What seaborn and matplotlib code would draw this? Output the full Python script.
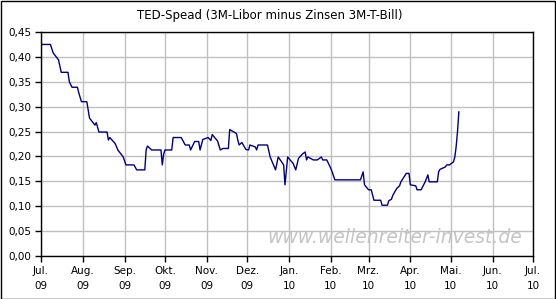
import matplotlib
matplotlib.use("Agg")
import matplotlib.pyplot as plt
import seaborn as sns
import pandas as pd
from matplotlib.patches import Rectangle

dates = [
    "2009-07-01", "2009-07-08", "2009-07-10", "2009-07-14", "2009-07-16", "2009-07-21",
    "2009-07-22", "2009-07-24", "2009-07-28", "2009-07-29", "2009-07-31", "2009-08-04",
    "2009-08-06", "2009-08-10", "2009-08-11", "2009-08-13", "2009-08-19", "2009-08-20",
    "2009-08-21", "2009-08-25", "2009-08-27", "2009-08-31", "2009-09-02", "2009-09-08",
    "2009-09-10", "2009-09-16", "2009-09-17", "2009-09-18", "2009-09-21", "2009-09-28",
    "2009-09-29", "2009-09-30", "2009-10-01", "2009-10-06", "2009-10-07", "2009-10-13",
    "2009-10-16", "2009-10-19", "2009-10-20", "2009-10-23", "2009-10-26", "2009-10-27",
    "2009-10-29", "2009-11-02", "2009-11-04", "2009-11-05", "2009-11-09", "2009-11-11",
    "2009-11-13", "2009-11-17", "2009-11-18", "2009-11-23", "2009-11-24", "2009-11-25",
    "2009-11-27", "2009-11-30", "2009-12-02", "2009-12-03", "2009-12-07", "2009-12-08",
    "2009-12-09", "2009-12-16", "2009-12-18", "2009-12-22", "2009-12-24", "2009-12-28",
    "2009-12-29", "2009-12-31", "2010-01-04", "2010-01-06", "2010-01-08", "2010-01-11",
    "2010-01-13", "2010-01-14", "2010-01-15", "2010-01-19", "2010-01-22", "2010-01-25",
    "2010-01-26", "2010-01-29", "2010-02-01", "2010-02-02", "2010-02-04", "2010-02-23",
    "2010-02-25", "2010-02-26", "2010-03-01", "2010-03-03", "2010-03-05", "2010-03-10",
    "2010-03-11", "2010-03-15", "2010-03-16", "2010-03-18", "2010-03-19", "2010-03-22",
    "2010-03-24", "2010-03-25", "2010-03-29", "2010-03-31", "2010-04-01", "2010-04-05",
    "2010-04-06", "2010-04-09", "2010-04-12", "2010-04-14", "2010-04-15", "2010-04-21",
    "2010-04-22", "2010-04-23", "2010-04-27", "2010-04-28", "2010-04-30", "2010-05-03",
    "2010-05-04", "2010-05-05", "2010-05-06", "2010-05-07",
]
ted_spread = [
    0.425, 0.425, 0.408, 0.394, 0.369, 0.369,
    0.350, 0.339, 0.339, 0.328, 0.310, 0.310,
    0.277, 0.263, 0.268, 0.249, 0.249, 0.233,
    0.238, 0.226, 0.213, 0.199, 0.183, 0.183,
    0.173, 0.173, 0.213, 0.221, 0.213, 0.213,
    0.183, 0.205, 0.213, 0.213, 0.238, 0.238,
    0.223, 0.223, 0.213, 0.230, 0.230, 0.213,
    0.234, 0.238, 0.232, 0.244, 0.231, 0.213,
    0.216, 0.216, 0.254, 0.246, 0.233, 0.223,
    0.228, 0.214, 0.213, 0.223, 0.219, 0.213,
    0.223, 0.223, 0.199, 0.173, 0.199, 0.183,
    0.143, 0.199, 0.186, 0.173, 0.196, 0.205,
    0.209, 0.193, 0.199, 0.193, 0.193, 0.199,
    0.193, 0.193, 0.176, 0.169, 0.153, 0.153,
    0.169, 0.143, 0.133, 0.133, 0.112, 0.112,
    0.102, 0.102, 0.111, 0.114, 0.122, 0.136,
    0.141, 0.149, 0.166, 0.166, 0.143, 0.141,
    0.133, 0.133, 0.149, 0.163, 0.149, 0.149,
    0.169, 0.174, 0.179, 0.183, 0.183, 0.189,
    0.199, 0.220, 0.250, 0.290,
]
tick_dates = ["2009-07-01", "2009-08-01", "2009-09-01", "2009-10-01", "2009-11-01",
              "2009-12-01", "2010-01-01", "2010-02-01", "2010-03-01", "2010-04-01",
              "2010-05-01", "2010-06-01", "2010-07-01"]
tick_labels = ["Jul.\n09", "Aug.\n09", "Sep.\n09", "Okt.\n09", "Nov.\n09", "Dez.\n09",
               "Jan.\n10", "Feb.\n10", "Mrz.\n10", "Apr.\n10", "Mai.\n10", "Jun.\n10",
               "Jul.\n10"]
y_ticks = [0.00, 0.05, 0.10, 0.15, 0.20, 0.25, 0.30, 0.35, 0.40, 0.45]
y_labels = ["0,00", "0,05", "0,10", "0,15", "0,20", "0,25", "0,30", "0,35", "0,40", "0,45"]
title = "TED-Spead (3M-Libor minus Zinsen 3M-T-Bill)"
watermark = "www.wellenreiter-invest.de"

sns.set_theme(style="white")
plt.rcParams["font.family"] = ["DejaVu Sans"]

df = pd.DataFrame({"date": pd.to_datetime(dates), "ted": ted_spread})

W, H = 556, 299
fig = plt.figure(figsize=(W / 100, H / 100), dpi=100)
fig.patch.set_facecolor("white")
ax = fig.add_axes([41 / W, 1 - 256 / H, (533 - 41) / W, (256 - 32) / H])

sns.lineplot(data=df, x="date", y="ted", ax=ax, color="#000080", linewidth=1.0)

ax.set_xlim(pd.Timestamp("2009-07-01"), pd.Timestamp("2010-07-01"))
ax.set_ylim(0, 0.45)
ax.set_xticks(pd.to_datetime(tick_dates))
ax.set_xticklabels(tick_labels, fontsize=7.5, linespacing=1.7)
ax.set_yticks(y_ticks)
ax.set_yticklabels(y_labels, fontsize=7.5)
ax.set_xlabel("")
ax.set_ylabel("")
ax.grid(True, color="#c0c0c0", linewidth=1.0)
ax.set_axisbelow(True)
for s in ax.spines.values():
    s.set_color("black")
    s.set_linewidth(1.0)
ax.tick_params(axis="both", which="both", direction="out", length=4, width=1,
               color="black", labelcolor="black", bottom=True, left=True, pad=3)

ax.text(0.978, 0.083, watermark, transform=ax.transAxes, ha="right", va="center",
        fontsize=13.5, style="italic", color="#c4c4c4")

fig.text(270 / W, 1 - 16 / H, title, ha="center", va="center", fontsize=8.5, color="black")

fig.patches.append(Rectangle((0.5 / W, 0.5 / H), 1 - 1.5 / W, 1 - 1.5 / H,
                             transform=fig.transFigure, fill=False,
                             edgecolor="black", linewidth=1.0))

fig.savefig("out.png", dpi=100)
